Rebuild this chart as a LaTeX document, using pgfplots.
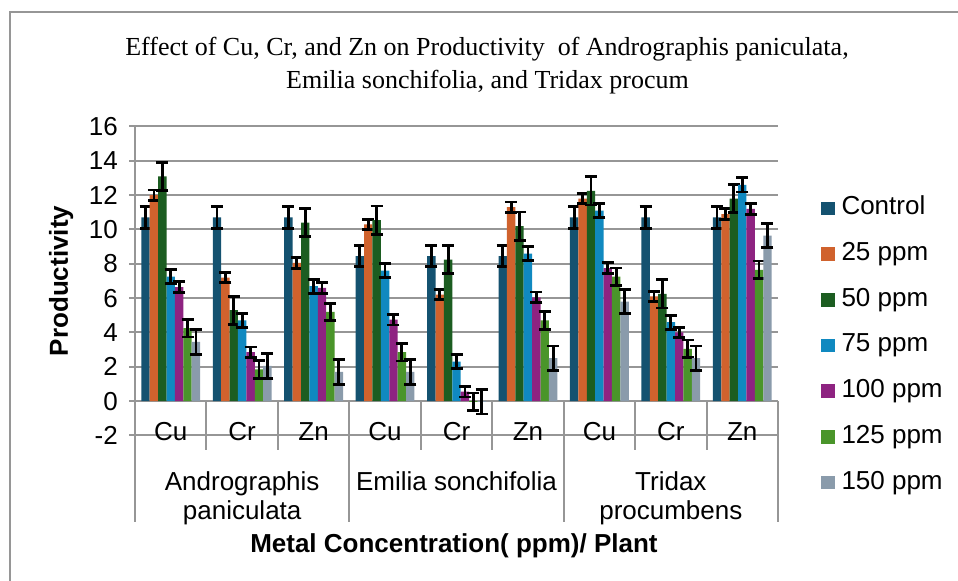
\documentclass[border=0pt]{standalone}
\usepackage{pgfplots}
\pgfplotsset{compat=1.18}
\usepackage{pgfplotstable}
\usepackage{fontspec}
\setmainfont{Liberation Sans}
\newfontfamily\titlefont{Liberation Serif}

\definecolor{c0}{RGB}{20,82,112}
\definecolor{c1}{RGB}{208,98,45}
\definecolor{c2}{RGB}{28,93,33}
\definecolor{c3}{RGB}{16,137,192}
\definecolor{c4}{RGB}{142,35,129}
\definecolor{c5}{RGB}{74,149,42}
\definecolor{c6}{RGB}{138,155,171}
\definecolor{gridgray}{RGB}{150,150,150}

\newcommand\fs{\fontsize{26bp}{29bp}\selectfont}

% groups: 0-2 Andrographis (Cu,Cr,Zn), 3-5 Emilia, 6-8 Tridax
\pgfplotstableread{
x  c0    e0   c1    e1   c2    e2   c3    e3   c4    e4   c5    e5   c6    e6
0  10.7  0.62 12.0  0.30 13.1  0.82 7.25  0.41 6.65  0.31 4.25  0.51 3.45  0.71
1  10.7  0.62 7.2   0.30 5.3   0.82 4.7   0.41 2.85  0.31 1.85  0.51 2.05  0.71
2  10.7  0.62 8.05  0.30 10.4  0.82 6.7   0.41 6.6   0.31 5.2   0.51 1.7   0.71
3  8.45  0.62 10.3  0.30 10.55 0.82 7.6   0.41 4.75  0.31 2.85  0.51 1.7   0.71
4  8.45  0.62 6.2   0.30 8.25  0.82 2.3   0.41 0.55  0.31 -0.04 0.51 -0.04 0.71
5  8.45  0.62 11.3  0.30 10.2  0.82 8.6   0.41 6.05  0.31 4.7   0.51 2.5   0.71
6  10.7  0.62 11.8  0.30 12.25 0.82 11.1  0.41 7.75  0.31 7.25  0.51 5.8   0.71
7  10.7  0.62 6.1   0.30 6.25  0.82 4.6   0.41 4.0   0.31 3.05  0.51 2.5   0.71
8  10.7  0.62 10.9  0.30 11.8  0.82 12.6  0.41 11.2  0.31 7.65  0.51 9.65  0.71
}\data

\begin{document}
\begin{tikzpicture}
\useasboundingbox (0,0) rectangle (958bp,581bp);
\fill[white] (0,0) rectangle (958bp,581bp);
% outer frame
\draw[gridgray, line width=2bp] (10bp,0) -- (10bp,569bp) -- (958bp,569bp);
% title
\node[font=\titlefont\fs, anchor=base] at (487bp,525bp) {Effect of Cu, Cr, and Zn on Productivity\ \ of Andrographis paniculata,};
\node[font=\titlefont\fs, anchor=base] at (487.5bp,492bp) {Emilia sonchifolia, and Tridax procum};

\begin{axis}[
  at={(135bp,145.5bp)}, anchor=south west,
  scale only axis, width=643bp, height=309bp,
  clip=false,
  ybar=0pt, bar width=8.4bp,
  xmin=-0.5, xmax=8.5, ymin=-2, ymax=16,
  ytick={-2,0,...,16},
  xtick={0,...,8},
  xticklabels={Cu,Cr,Zn,Cu,Cr,Zn,Cu,Cr,Zn},
  axis x line*=bottom, axis y line*=left,
  x axis line style={draw=none},
  y axis line style={gridgray, line width=2bp, -},
  xtick style={draw=none},
  ytick style={gridgray, line width=2bp},
  tick align=outside, major tick length=6bp,
  ymajorgrids, grid style={gridgray, line width=2bp},
  /pgf/number format/assume math mode=true,
  ticklabel style={font=\fs},
  yticklabel style={inner sep=0pt, xshift=-11bp},
  xticklabel style={anchor=base, inner sep=0pt, yshift=0.5bp},
  ylabel={Productivity},
  ylabel style={font=\fs\bfseries, at={(axis description cs:-0.115,0.5)}, anchor=center},
  xlabel={Metal Concentration( ppm)/ Plant},
  xlabel style={font=\fs\bfseries, at={(axis description cs:0.496,-0.3787)}, anchor=base},
  legend style={draw=none, fill=none, font=\fs, inner sep=0pt,
    at={(axis description cs:1.0664,0.7763)}, anchor=north west,
    row sep=20.7bp, column sep=7bp,
    nodes={inner sep=0pt, text height=19bp, text depth=6bp}},
  legend cell align=left,
  legend image code/.code={\fill[#1, draw=none] (0bp,-6.8bp) rectangle (13.6bp,6.8bp);},
  error bars/error bar style={draw=black, line width=2.8bp},
  error bars/error mark options={draw=black, rotate=90, mark size=6bp, line width=2.8bp},
]
\addplot[fill=c0, draw=none, error bars/.cd, y dir=both, y explicit] table[x=x, y=c0, y error=e0] {\data};
\addplot[fill=c1, draw=none, error bars/.cd, y dir=both, y explicit] table[x=x, y=c1, y error=e1] {\data};
\addplot[fill=c2, draw=none, error bars/.cd, y dir=both, y explicit] table[x=x, y=c2, y error=e2] {\data};
\addplot[fill=c3, draw=none, error bars/.cd, y dir=both, y explicit] table[x=x, y=c3, y error=e3] {\data};
\addplot[fill=c4, draw=none, error bars/.cd, y dir=both, y explicit] table[x=x, y=c4, y error=e4] {\data};
\addplot[fill=c5, draw=none, error bars/.cd, y dir=both, y explicit] table[x=x, y=c5, y error=e5] {\data};
\addplot[fill=c6, draw=none, error bars/.cd, y dir=both, y explicit] table[x=x, y=c6, y error=e6] {\data};
\legend{Control,25 ppm,50 ppm,75 ppm,100 ppm,125 ppm,150 ppm}

% category separators
\pgfplotsinvokeforeach{0.5,1.5,3.5,4.5,6.5,7.5}{
  \draw[gridgray, line width=2bp] (axis cs:#1,0) -- (axis cs:#1,-2.84);
}
\pgfplotsinvokeforeach{-0.5,2.5,5.5,8.5}{
  \draw[gridgray, line width=2bp] (axis cs:#1,0) -- (axis cs:#1,-7.04);
}
% group labels
\node[font=\fs, align=center, anchor=north, inner sep=0pt] at (axis cs:1,-4.07) {Andrographis\\paniculata};
\node[font=\fs, align=center, anchor=north, inner sep=0pt] at (axis cs:4,-4.07) {Emilia sonchifolia};
\node[font=\fs, align=center, anchor=north, inner sep=0pt] at (axis cs:7,-4.07) {Tridax\\procumbens};
\end{axis}
\end{tikzpicture}
\end{document}
